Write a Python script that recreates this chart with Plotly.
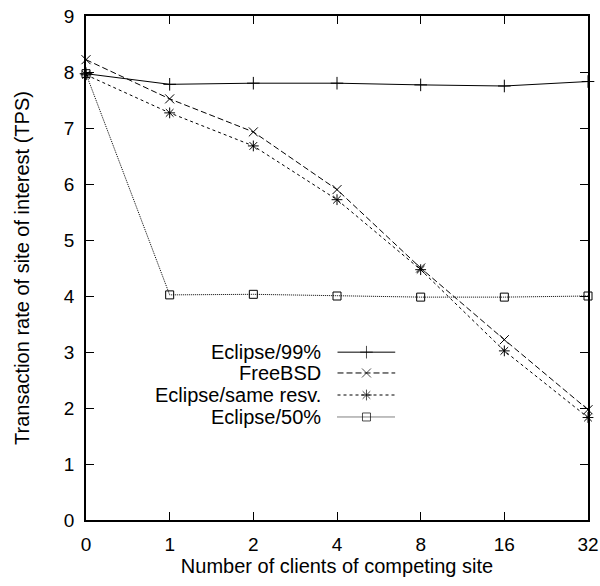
import plotly.graph_objects as go

clients = ["0", "1", "2", "4", "8", "16", "32"]
eclipse99 = [7.97, 7.78, 7.80, 7.80, 7.77, 7.75, 7.83]
freebsd = [8.22, 7.52, 6.93, 5.90, 4.50, 3.22, 1.97]
same_resv = [7.95, 7.27, 6.68, 5.72, 4.47, 3.02, 1.83]
eclipse50 = [7.97, 4.02, 4.03, 4.00, 3.98, 3.98, 4.00]

names = ["Eclipse/99%", "FreeBSD", "Eclipse/same resv.", "Eclipse/50%"]
series = [eclipse99, freebsd, same_resv, eclipse50]
dashes = ["solid", "6px,3px", "3px,3px", "1px,1px"]
symbols = ["cross-thin-open", "x-thin-open", "asterisk-open", "square-open"]
sizes = [9, 9, 9, 8]

FONT = "Liberation Sans, Arial, sans-serif"
xs = list(range(len(clients)))

fig = go.Figure()
for name, ys, d, s, sz in zip(names, series, dashes, symbols, sizes):
    fig.add_trace(go.Scatter(
        x=xs, y=ys, name=name, mode="lines+markers",
        line=dict(color="black", width=1, dash=d),
        marker=dict(symbol=s, size=sz, color="black", line=dict(color="black", width=1)),
        showlegend=False, cliponaxis=False,
    ))

# custom gnuplot-style key
key_y = [0.333, 0.2917, 0.248, 0.2044]
for name, ky, d, s, sz in zip(names, key_y, dashes, symbols, sizes):
    fig.add_trace(go.Scatter(
        x=[0.501, 0.5587, 0.616], y=[ky, ky, ky], mode="lines+markers",
        xaxis="x2", yaxis="y2",
        line=dict(color="black", width=1, dash=d),
        marker=dict(symbol=s, size=[0, sz, 0], color="black", line=dict(color="black", width=1)),
        showlegend=False, hoverinfo="skip",
    ))
    fig.add_annotation(x=0.473, y=ky, xref="paper", yref="paper", text=name,
                       showarrow=False, xanchor="right", yanchor="middle",
                       font=dict(family=FONT, size=20, color="black"))

axis_common = dict(showgrid=False, zeroline=False, showline=True, linecolor="black",
                   linewidth=1.5, mirror="allticks", ticks="inside", ticklen=8,
                   tickcolor="black", tickwidth=1, automargin=False,
                   tickfont=dict(family=FONT, size=19, color="black"))

fig.update_layout(
    width=600, height=586,
    margin=dict(l=86, r=12, t=16, b=66),
    paper_bgcolor="white", plot_bgcolor="white",
    xaxis=dict(range=[0, 6], tickmode="array", tickvals=xs, ticktext=clients,
               ticklabelstandoff=6,
               title=dict(text="Number of clients of competing site",
                          font=dict(family=FONT, size=20, color="black"), standoff=4),
               **axis_common),
    yaxis=dict(range=[0, 9], dtick=1, ticklabelstandoff=6,
               title=dict(text="Transaction rate of site of interest (TPS)",
                          font=dict(family=FONT, size=20, color="black"), standoff=29),
               **axis_common),
    xaxis2=dict(range=[0, 1], overlaying="x", visible=False),
    yaxis2=dict(range=[0, 1], overlaying="y", visible=False),
)

fig.write_html("out.html", config={"displayModeBar": False},
               post_script="document.body.style.margin='0';document.body.style.overflow='hidden';")
